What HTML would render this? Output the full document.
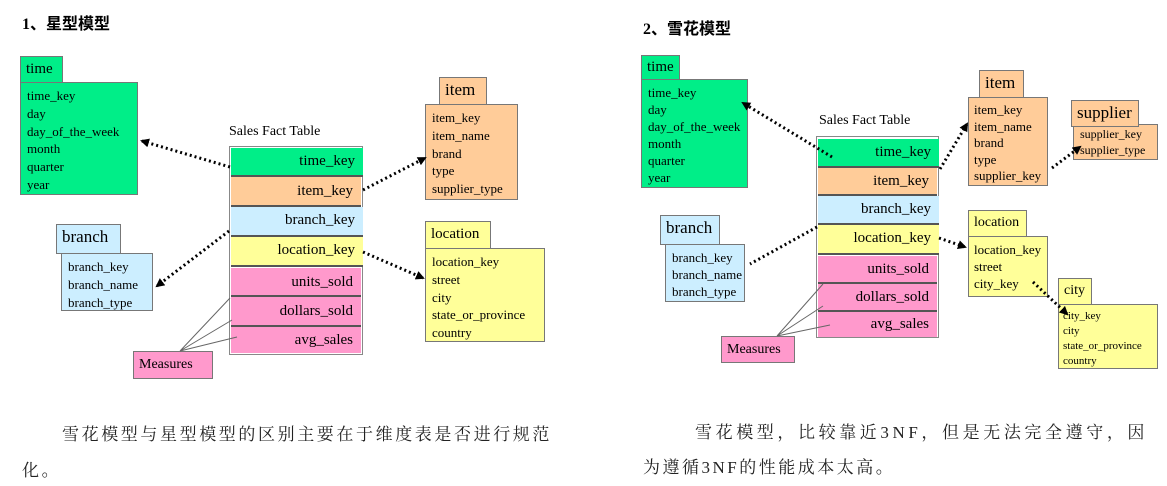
<!DOCTYPE html>
<html><head><meta charset="utf-8"><style>
body{margin:0;width:1167px;height:486px;background:#fff;position:relative;overflow:hidden;font-family:"Liberation Serif","Noto Serif CJK SC",serif;}
.a{position:absolute;box-sizing:border-box;}
.tab{border:1px solid #777;font-size:15px;padding:2px 0 0 5px;line-height:20px;}
.big{font-size:17px;}
.body{border:1px solid #777;font-size:13px;line-height:17.8px;padding:4px 0 0 6px;white-space:nowrap;}
.g{background:#00ee88}.o{background:#ffcc99}.b{background:#cceeff}.y{background:#ffff99}.p{background:#ff99cc}
.row{font-size:15px;text-align:right;padding-right:8px;border-bottom:2px solid #555;box-sizing:border-box;}
.ft{border:1px solid #888;background:#fff;}
.tt{font-size:16px;font-weight:bold;font-family:"Liberation Serif","Noto Sans CJK SC",sans-serif;}
.cn{font-size:17px;letter-spacing:2.6px;white-space:nowrap;font-family:"Liberation Serif","Noto Serif CJK SC",serif;color:#222;}
svg{position:absolute;left:0;top:0;}
</style></head><body>
<div class="a tt" style="left:22px;top:10px">1、星型模型</div>
<div class="a tt" style="left:643px;top:15px">2、雪花模型</div>

<!-- LEFT -->
<div class="a tab g" style="left:20px;top:56px;width:43px;height:27px">time</div>
<div class="a body g" style="left:20px;top:82px;width:118px;height:113px">time_key<br>day<br>day_of_the_week<br>month<br>quarter<br>year</div>
<div class="a tab o big" style="left:439px;top:77px;width:48px;height:28px">item</div>
<div class="a body o" style="left:425px;top:104px;width:93px;height:96px">item_key<br>item_name<br>brand<br>type<br>supplier_type</div>
<div class="a tab b big" style="left:56px;top:224px;width:65px;height:30px">branch</div>
<div class="a body b" style="left:61px;top:253px;width:92px;height:58px">branch_key<br>branch_name<br>branch_type</div>
<div class="a tab y" style="left:425px;top:221px;width:66px;height:28px">location</div>
<div class="a body y" style="left:425px;top:248px;width:120px;height:94px">location_key<br>street<br>city<br>state_or_province<br>country</div>
<div class="a" style="left:229px;top:124px;font-size:14px">Sales Fact Table</div>
<div class="a ft" style="left:229px;top:146px;width:134px;height:209px"></div>
<div class="a row g" style="left:231px;top:148px;width:132px;height:29px;line-height:27px">time_key</div>
<div class="a row o" style="left:231px;top:177px;width:130px;height:30px;line-height:28px">item_key</div>
<div class="a row b" style="left:231px;top:207px;width:132px;height:30px;line-height:26px">branch_key</div>
<div class="a row y" style="left:231px;top:237px;width:132px;height:30px;line-height:26px">location_key</div>
<div class="a row p" style="left:231px;top:268px;width:130px;height:29px;line-height:28px">units_sold</div>
<div class="a row p" style="left:231px;top:297px;width:130px;height:30px;line-height:28px">dollars_sold</div>
<div class="a row p" style="left:231px;top:327px;width:130px;height:26px;line-height:26px;border:none">avg_sales</div>
<div class="a tab p" style="left:133px;top:351px;width:80px;height:28px;font-size:14px;line-height:22px">Measures</div>

<!-- RIGHT -->
<div class="a tab g" style="left:641px;top:55px;width:39px;height:25px;line-height:18px">time</div>
<div class="a body g" style="left:641px;top:79px;width:107px;height:109px;line-height:17px">time_key<br>day<br>day_of_the_week<br>month<br>quarter<br>year</div>
<div class="a tab o big" style="left:979px;top:70px;width:45px;height:28px">item</div>
<div class="a body o" style="left:968px;top:97px;width:80px;height:89px;line-height:16.5px;padding-left:5px">item_key<br>item_name<br>brand<br>type<br>supplier_key</div>
<div class="a body o" style="left:1073px;top:124px;width:85px;height:36px;line-height:16px;font-size:12px;padding-top:1px">supplier_key<br>supplier_type</div>
<div class="a tab o big" style="left:1071px;top:100px;width:68px;height:27px;line-height:20px">supplier</div>
<div class="a tab b big" style="left:660px;top:215px;width:60px;height:30px">branch</div>
<div class="a body b" style="left:665px;top:244px;width:80px;height:58px;line-height:17px">branch_key<br>branch_name<br>branch_type</div>
<div class="a tab y" style="left:968px;top:210px;width:59px;height:27px;font-size:14px">location</div>
<div class="a body y" style="left:968px;top:236px;width:80px;height:61px;line-height:17px;padding-left:5px">location_key<br>street<br>city_key</div>
<div class="a tab y" style="left:1058px;top:278px;width:34px;height:27px;font-size:14px">city</div>
<div class="a body y" style="left:1058px;top:304px;width:100px;height:65px;font-size:11px;line-height:15px;padding-left:4px">city_key<br>city<br>state_or_province<br>country</div>
<div class="a" style="left:819px;top:113px;font-size:14px">Sales Fact Table</div>
<div class="a ft" style="left:816px;top:136px;width:123px;height:202px"></div>
<div class="a row g" style="left:818px;top:139px;width:121px;height:29px;line-height:27px">time_key</div>
<div class="a row o" style="left:818px;top:168px;width:119px;height:28px;line-height:26px">item_key</div>
<div class="a row b" style="left:818px;top:196px;width:121px;height:29px;line-height:26px">branch_key</div>
<div class="a row y" style="left:818px;top:225px;width:121px;height:30px;line-height:27px">location_key</div>
<div class="a row p" style="left:818px;top:256px;width:119px;height:28px;line-height:26px">units_sold</div>
<div class="a row p" style="left:818px;top:284px;width:119px;height:28px;line-height:26px">dollars_sold</div>
<div class="a row p" style="left:818px;top:312px;width:119px;height:25px;line-height:25px;border:none">avg_sales</div>
<div class="a tab p" style="left:721px;top:336px;width:74px;height:27px;font-size:14px;line-height:21px">Measures</div>

<svg width="1167" height="486">
<defs><marker id="ar" markerUnits="userSpaceOnUse" markerWidth="9" markerHeight="9" refX="7" refY="4.5" orient="auto"><path d="M0,0 L9,4.5 L0,9z" fill="#000"/></marker></defs>
<g stroke="#000" stroke-width="3" stroke-dasharray="2,3" fill="none" marker-end="url(#ar)">
<path d="M230,167 L142,141"/>
<path d="M363,190 L425,158"/>
<path d="M229,231 L157,286"/>
<path d="M363,252 L423,278"/>
<path d="M832,157 L743,103"/>
<path d="M940,169 L967,124"/>
<path d="M1052,168 L1080,147"/>
<path d="M939,238 L965,247"/>
<path d="M1033,282 L1067,314"/>
</g>
<g stroke="#000" stroke-width="3" stroke-dasharray="2,3" fill="none">
<path d="M817,227 L750,264"/>
</g>
<g stroke="#666" stroke-width="1" fill="none">
<path d="M180,351 L230,298 M180,351 L232,320 M180,351 L237,337"/>
<path d="M777,336 L823,284 M777,336 L823,306 M777,336 L830,325"/>
</g>
</svg>

<div class="a cn" style="left:62px;top:420px">雪花模型与星型模型的区别主要在于维度表是否进行规范</div>
<div class="a cn" style="left:22px;top:456px">化。</div>
<div class="a cn" style="left:695px;top:418px;letter-spacing:3.6px">雪花模型，比较靠近3NF，但是无法完全遵守，因</div>
<div class="a cn" style="left:643px;top:453px;letter-spacing:2.5px">为遵循3NF的性能成本太高。</div>
</body></html>
